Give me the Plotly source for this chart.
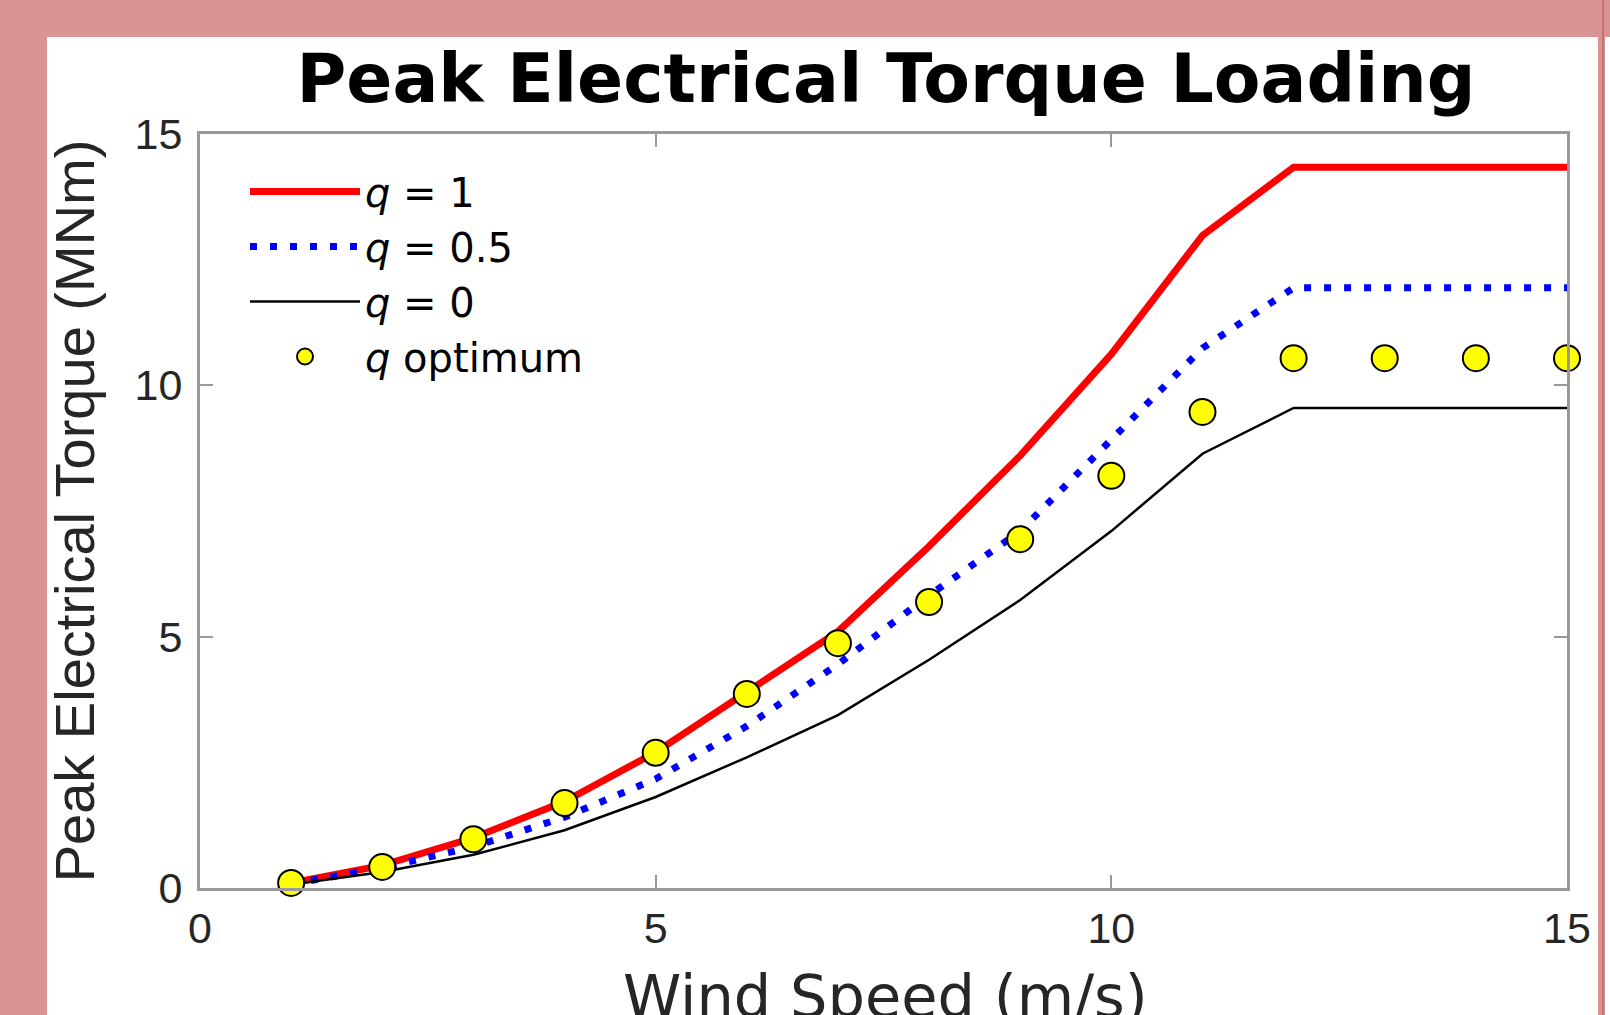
import plotly.graph_objects as go

# ---- data ----
wind_speed = [1, 2, 3, 4, 5, 6, 7, 8, 9, 10, 11, 12, 13, 14, 15]
torque_q1 = [0.10, 0.45, 1.00, 1.72, 2.70, 3.90, 5.10, 6.80, 8.60, 10.62, 12.98, 14.34, 14.34, 14.34, 14.34]
torque_q05 = [0.08, 0.40, 0.82, 1.41, 2.17, 3.22, 4.45, 5.82, 7.10, 8.90, 10.74, 11.94, 11.94, 11.94, 11.94]
torque_q0 = [0.07, 0.32, 0.66, 1.15, 1.81, 2.60, 3.44, 4.54, 5.73, 7.10, 8.64, 9.55, 9.55, 9.55, 9.55]
torque_opt = [0.10, 0.42, 0.97, 1.69, 2.69, 3.86, 4.87, 5.69, 6.94, 8.20, 9.47, 10.54, 10.54, 10.54, 10.54]

x_ticks = [0, 5, 10, 15]
y_ticks = [0, 5, 10, 15]

W, H = 1610, 1015
L, R, T, B = 200, 1567, 134, 888   # plot area in pixels


def px_x(p):
    return (p - L) / (R - L)


def px_y(p):
    return (B - p) / (B - T)


fig = go.Figure()
fig.add_trace(go.Scatter(x=wind_speed, y=torque_q1, mode="lines", name="<i>q</i> = 1",
                         line=dict(color="#ff0000", width=7), cliponaxis=False))
fig.add_trace(go.Scatter(x=wind_speed, y=torque_q05, mode="lines", name="<i>q</i> = 0.5",
                         line=dict(color="#0000ff", width=7, dash="7px,13px"), cliponaxis=False))
fig.add_trace(go.Scatter(x=wind_speed, y=torque_q0, mode="lines", name="<i>q</i> = 0",
                         line=dict(color="#000000", width=2.5), cliponaxis=False))
fig.add_trace(go.Scatter(x=wind_speed, y=torque_opt, mode="markers", name="<i>q</i> optimum",
                         marker=dict(color="#ffff00", size=26, line=dict(color="#000000", width=2)),
                         cliponaxis=False))

axis_common = dict(
    showline=True, linecolor="#999999", linewidth=3, mirror="ticks",
    ticks="inside", ticklen=13, tickwidth=2, tickcolor="#999999",
    showgrid=False, zeroline=False,
    tickfont=dict(family="Liberation Sans, Arial", size=43, color="#262626"),
)

fig.update_xaxes(range=[0, 15], tickvals=x_ticks, ticktext=[str(v) for v in x_ticks],
                 **axis_common)
fig.update_yaxes(range=[0, 15], tickvals=y_ticks, ticktext=[str(v) for v in y_ticks],
                 ticklabelstandoff=6,
                 title=dict(text="Peak Electrical Torque (MNm)", standoff=22,
                            font=dict(family="Liberation Sans, Arial", size=56, color="#262626")),
                 **axis_common)

fig.update_layout(
    width=W, height=H,
    margin=dict(l=L, r=W - R, t=T, b=H - B, autoexpand=False),
    paper_bgcolor="#d99594",
    plot_bgcolor="#ffffff",
    title=dict(text="<b>Peak Electrical Torque Loading</b>", x=886 / W, xanchor="center", xref="container",
               y=1 - 78 / H, yanchor="middle", yref="container",
               font=dict(family="DejaVu Sans", size=68, color="#000000")),
    legend=dict(x=px_x(245), y=px_y(159), xanchor="left", yanchor="top",
                bgcolor="rgba(0,0,0,0)", borderwidth=0, itemwidth=110,
                font=dict(family="DejaVu Sans", size=40, color="#000000"),
                tracegroupgap=0),
    showlegend=True,
    annotations=[
        dict(text="Wind Speed (m/s)", xref="paper", yref="paper", x=px_x(885), y=px_y(996),
             xanchor="center", yanchor="middle", showarrow=False,
             font=dict(family="DejaVu Sans", size=59, color="#262626")),
    ],
    shapes=[
        dict(type="rect", xref="paper", yref="paper", x0=px_x(47), x1=px_x(1598),
             y0=px_y(1015), y1=px_y(37), fillcolor="#ffffff", line=dict(width=0), layer="below"),
        dict(type="rect", xref="paper", yref="paper", x0=px_x(1605), x1=px_x(1612),
             y0=px_y(1015), y1=px_y(37), fillcolor="#ffffff", line=dict(width=0), layer="below"),
        dict(type="line", xref="paper", yref="paper", x0=px_x(1603), x1=px_x(1603),
             y0=px_y(1015), y1=px_y(0), line=dict(color="#c97171", width=2), layer="below"),
    ],
)

fig.write_html("out.html", config={"displayModeBar": False},
               post_script="document.body.style.margin='0';document.body.style.overflow='hidden';")
